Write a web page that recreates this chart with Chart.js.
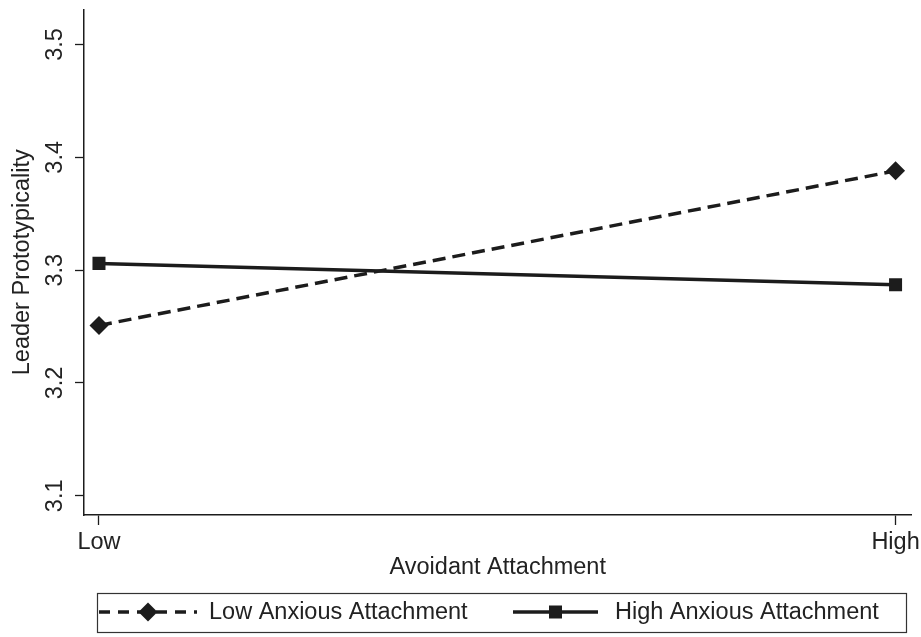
<!DOCTYPE html>
<html>
<head>
<meta charset="utf-8">
<script src="https://cdn.jsdelivr.net/npm/chart.js@4.4.0/dist/chart.umd.min.js"></script>
<style>
  html, body { margin: 0; padding: 0; background: #fff; }
  #wrap { width: 921px; height: 637px; }
</style>
</head>
<body>
<div id="wrap"><canvas id="chart" width="921" height="637"></canvas></div>
<script>
/* ===== data ===== */
const xLabels = ["Low", "High"];
const xPos = [0, 1];
const lowAnxious = [3.251, 3.388];
const highAnxious = [3.306, 3.287];
const yTicks = [3.1, 3.2, 3.3, 3.4, 3.5];
const seriesNames = ["Low Anxious Attachment", "High Anxious Attachment"];

const INK = "#1c1c1c";
const FONT = "'Liberation Sans', Arial, sans-serif";
const FS = 23.5;

function toPoints(vals) {
  return vals.map((v, i) => ({ x: xPos[i], y: v }));
}

/* legend drawn in a boxed row below the axis title */
const boxLegend = {
  id: "boxLegend",
  afterDraw(chart) {
    const ctx = chart.ctx;
    const sets = chart.data.datasets;
    ctx.save();
    ctx.strokeStyle = "#333";
    ctx.lineWidth = 1.2;
    ctx.strokeRect(97.5, 593.5, 809, 39);

    const items = [
      { x0: 99, x1: 197, tx: 209 },
      { x0: 513, x1: 598, tx: 615 }
    ];
    const y = 612;
    items.forEach((it, i) => {
      const ds = sets[i];
      ctx.strokeStyle = ds.borderColor;
      ctx.lineWidth = ds.borderWidth;
      ctx.setLineDash(ds.borderDash ? [11, 8] : []);
      ctx.beginPath();
      ctx.moveTo(it.x0, y);
      ctx.lineTo(it.x1, y);
      ctx.stroke();
      ctx.setLineDash([]);
      ctx.fillStyle = ds.pointBackgroundColor;
      ctx.strokeStyle = ds.pointBackgroundColor;
      ctx.lineWidth = 0;
      Chart.helpers.drawPoint(ctx, {
        pointStyle: ds.pointStyle,
        radius: ds.pointRadius,
        rotation: 0,
        borderWidth: 0
      }, (it.x0 + it.x1) / 2, y);
      ctx.fillStyle = "#222";
      ctx.font = FS + "px " + FONT;
      ctx.textBaseline = "middle";
      ctx.textAlign = "left";
      ctx.fillText(ds.label, it.tx, y + 1);
    });
    ctx.restore();
  }
};

const whiteBg = {
  id: "whiteBg",
  beforeDraw(chart) {
    const ctx = chart.ctx;
    ctx.save();
    ctx.fillStyle = "#fff";
    ctx.fillRect(0, 0, chart.width, chart.height);
    ctx.restore();
  }
};

new Chart(document.getElementById("chart"), {
  type: "line",
  data: {
    datasets: [
      {
        label: seriesNames[0],
        data: toPoints(lowAnxious),
        borderColor: INK,
        borderWidth: 3.5,
        borderDash: [13, 7],
        pointStyle: "rectRot",
        pointRadius: 9.5,
        pointBackgroundColor: INK,
        pointBorderWidth: 0,
        tension: 0
      },
      {
        label: seriesNames[1],
        data: toPoints(highAnxious),
        borderColor: INK,
        borderWidth: 3.5,
        pointStyle: "rect",
        pointRadius: 9.2,
        pointBackgroundColor: INK,
        pointBorderWidth: 0,
        tension: 0
      }
    ]
  },
  options: {
    responsive: false,
    animation: false,
    devicePixelRatio: 1,
    layout: { padding: { top: 7, right: 9, bottom: 0, left: 0 } },
    plugins: {
      legend: { display: false },
      tooltip: { enabled: false }
    },
    scales: {
      x: {
        type: "linear",
        min: -0.0188,
        max: 1.02,
        afterBuildTicks: s => { s.ticks = xPos.map(v => ({ value: v })); },
        afterFit: s => { s.height = 122; s.paddingLeft = 0; s.paddingRight = 0; },
        grid: { drawOnChartArea: false, tickLength: 10, tickColor: INK, tickWidth: 1.3 },
        border: { color: INK, width: 1.5 },
        ticks: {
          padding: 3,
          color: "#222",
          font: { family: FONT, size: FS },
          maxRotation: 0,
          autoSkip: false,
          callback: (v) => xLabels[xPos.indexOf(v)]
        },
        title: {
          display: true,
          text: "Avoidant Attachment",
          color: "#222",
          font: { family: FONT, size: FS },
          padding: { top: 0, bottom: 55 }
        }
      },
      y: {
        min: 3.083,
        max: 3.531,
        afterBuildTicks: s => { s.ticks = yTicks.map(v => ({ value: v })); },
        afterFit: s => { s.width = 84; s.paddingTop = 0; s.paddingBottom = 0; },
        grid: { drawOnChartArea: false, tickLength: 9, tickColor: INK, tickWidth: 1.3 },
        border: { color: INK, width: 1.5 },
        ticks: {
          minRotation: 90,
          maxRotation: 90,
          crossAlign: "center",
          padding: 3,
          color: "#222",
          font: { family: FONT, size: FS },
          callback: (v) => v.toFixed(1)
        },
        title: {
          display: true,
          text: "Leader Prototypicality",
          color: "#222",
          font: { family: FONT, size: FS },
          padding: { top: 8, bottom: 0 }
        }
      }
    }
  },
  plugins: [whiteBg, boxLegend]
});
</script>
</body>
</html>
